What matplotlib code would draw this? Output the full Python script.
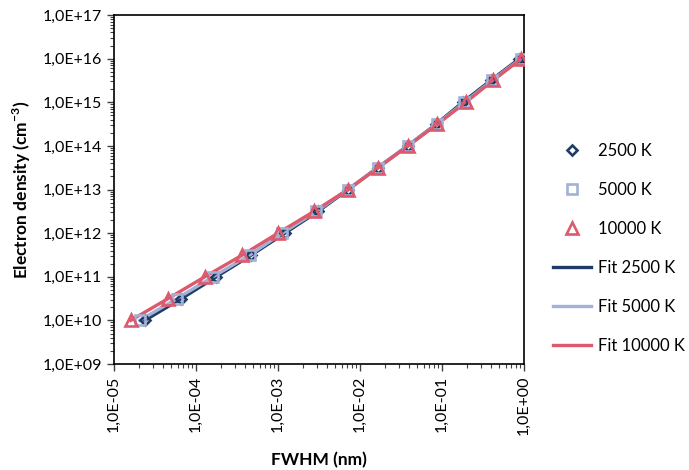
"""Electron density vs FWHM for three temperatures (log-log)."""
import matplotlib
matplotlib.use("Agg")
import matplotlib.pyplot as plt
from matplotlib.ticker import FuncFormatter, LogLocator, NullFormatter

plt.rcParams["font.family"] = ["Lato", "DejaVu Sans"]
plt.rcParams["mathtext.fontset"] = "custom"
plt.rcParams["mathtext.rm"] = "Lato"
plt.rcParams["mathtext.bf"] = "Lato:bold"

# Electron density (cm^-3), half-decade steps
density = [1e10, 3.16e10, 1e11, 3.16e11, 1e12, 3.16e12, 1e13,
           3.16e13, 1e14, 3.16e14, 1e15, 3.16e15, 1e16]

# FWHM (nm) for each temperature
fwhm_2500 = [2.37e-5, 6.64e-5, 1.77e-4, 4.74e-4, 1.21e-3, 3.08e-3, 7.18e-3,
             1.64e-2, 3.80e-2, 8.50e-2, 0.179, 0.393, 0.88]
fwhm_5000 = [2.06e-5, 5.86e-5, 1.61e-4, 4.52e-4, 1.13e-3, 2.94e-3, 7.08e-3,
             1.64e-2, 3.80e-2, 8.60e-2, 0.188, 0.407, 0.91]
fwhm_10000 = [1.60e-5, 4.56e-5, 1.28e-4, 3.68e-4, 1.00e-3, 2.75e-3, 7.14e-3,
              1.66e-2, 3.85e-2, 8.79e-2, 0.195, 0.419, 0.93]

C_2500 = "#1f3c68"
C_5000 = "#a3b1d6"
C_10000 = "#dc5a6c"

fig = plt.figure(figsize=(6.89, 4.70), dpi=100)
ax = fig.add_axes([0.1655, 0.2255, 0.595, 0.7425])

# Fit lines
ax.plot(fwhm_2500, density, color=C_2500, lw=2.4, label="Fit 2500 K", zorder=2)
ax.plot(fwhm_5000, density, color=C_5000, lw=2.4, label="Fit 5000 K", zorder=2)
ax.plot(fwhm_10000, density, color=C_10000, lw=2.4, label="Fit 10000 K", zorder=2)

# Data markers
ax.plot(fwhm_2500, density, ls="none", marker="D", ms=5.5, mfc="none",
        mec=C_2500, mew=1.9, label="2500 K", zorder=3)
ax.plot(fwhm_5000, density, ls="none", marker="s", ms=7.5, mfc="none",
        mec=C_5000, mew=1.9, label="5000 K", zorder=3)
ax.plot(fwhm_10000, density, ls="none", marker="^", ms=8.5, mfc="none",
        mec=C_10000, mew=1.9, label="10000 K", zorder=4)

ax.set_xscale("log")
ax.set_yscale("log")
ax.set_xlim(1e-5, 1)
ax.set_ylim(1e9, 1e17)

sci = FuncFormatter(lambda v, _: f"{v:.1E}".replace(".", ","))
ax.xaxis.set_major_locator(LogLocator(base=10, numticks=20))
ax.yaxis.set_major_locator(LogLocator(base=10, numticks=20))
ax.xaxis.set_minor_locator(LogLocator(base=10, subs=range(2, 10), numticks=20))
ax.yaxis.set_minor_locator(LogLocator(base=10, subs=range(2, 10), numticks=20))
ax.xaxis.set_major_formatter(sci)
ax.yaxis.set_major_formatter(sci)
ax.xaxis.set_minor_formatter(NullFormatter())
ax.yaxis.set_minor_formatter(NullFormatter())

ax.tick_params(which="major", direction="out", length=5, width=1,
               labelsize=11.5, color="#404040")
ax.tick_params(which="minor", direction="out", length=3, width=0.8,
               color="#404040")
ax.tick_params(axis="x", labelrotation=90)
for sp in ax.spines.values():
    sp.set_linewidth(1.2)
    sp.set_color("black")

ax.set_xlabel("FWHM (nm)", fontsize=12.5, fontweight="bold", labelpad=12)
ax.set_ylabel(r"Electron density (cm$^{\mathbf{-3}}$)", fontsize=12.5,
              fontweight="bold", labelpad=7)

handles, labels = ax.get_legend_handles_labels()
order = [3, 4, 5, 0, 1, 2]
ax.legend([handles[i] for i in order], [labels[i] for i in order],
          loc="center left", bbox_to_anchor=(0.781, 0.471),
          bbox_transform=fig.transFigure, frameon=False, fontsize=12,
          handlelength=2.3, handletextpad=0.4, labelspacing=1.38)

fig.savefig("out.png", dpi=100)
